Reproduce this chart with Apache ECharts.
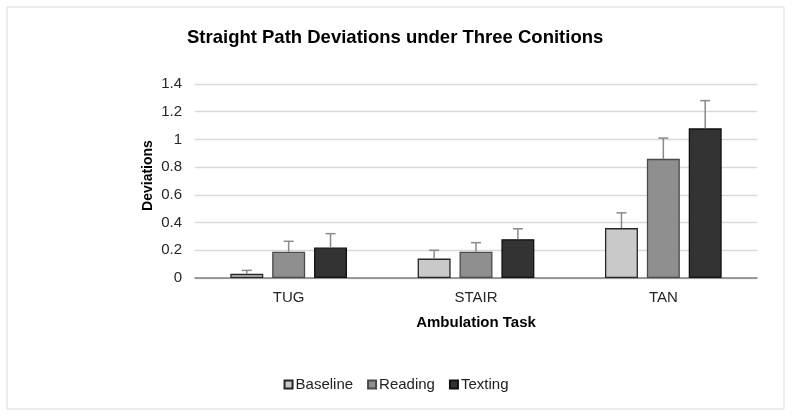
<!DOCTYPE html>
<html>
<head>
<meta charset="utf-8">
<script src="https://cdn.jsdelivr.net/npm/echarts@6/dist/echarts.min.js"></script>
<style>
html,body{margin:0;padding:0;background:#fff;}
#c{width:792px;height:417px;}
</style>
</head>
<body>
<div id="c"></div>
<script>
const categories = ['TUG', 'STAIR', 'TAN'];
const seriesNames = ['Baseline', 'Reading', 'Texting'];
const baseline = [0.03, 0.14, 0.36];
const reading = [0.19, 0.19, 0.86];
const texting = [0.22, 0.28, 1.08];
const baselineErr = [0.025, 0.06, 0.11];
const readingErr = [0.075, 0.065, 0.15];
const textingErr = [0.10, 0.075, 0.20];
const yTicks = [0, 0.2, 0.4, 0.6, 0.8, 1, 1.2, 1.4];

const values = [baseline, reading, texting];
const errs = [baselineErr, readingErr, textingErr];
const fills = ['#c9c9c9', '#8f8f8f', '#333333'];
const borders = ['#262626', '#4a4a4a', '#111111'];
const BAR_FRAC = 0.176, GAP_FRAC = 0.27;

const chart = echarts.init(document.getElementById('c'), null, {renderer: 'canvas'});
const series = [];
values.forEach((v, i) => {
  series.push({
    name: seriesNames[i], type: 'bar', data: v,
    barWidth: (BAR_FRAC * 100) + '%', barGap: (GAP_FRAC * 100) + '%',
    itemStyle: {color: fills[i], borderColor: borders[i], borderWidth: 1.3},
    z: 2
  });
});
values.forEach((v, i) => {
  series.push({
    type: 'custom', name: seriesNames[i] + ' err',
    data: v.map((val, j) => [j, val, val + errs[i][j]]),
    renderItem: function (params, api) {
      const catW = api.size([1, 0])[0];
      const bw = catW * BAR_FRAC;
      const off = (i - 1) * (bw + bw * GAP_FRAC);
      const p0 = api.coord([api.value(0), api.value(1)]);
      const p1 = api.coord([api.value(0), api.value(2)]);
      const x = p0[0] + off;
      const style = {stroke: '#8a8a8a', lineWidth: 1.5};
      return {type: 'group', children: [
        {type: 'line', shape: {x1: x, y1: p0[1], x2: x, y2: p1[1]}, style: style},
        {type: 'line', shape: {x1: x - 5, y1: p1[1], x2: x + 5, y2: p1[1]}, style: style}
      ]};
    },
    z: 3, silent: true
  });
});

chart.setOption({
  animation: false,
  backgroundColor: '#fff',
  textStyle: {fontFamily: 'Liberation Sans, Arial, sans-serif'},
  graphic: [{type: 'rect', shape: {x: 7, y: 7, width: 777, height: 402},
    style: {fill: 'none', stroke: '#d9d9d9', lineWidth: 1}, z: -1}],
  title: {text: 'Straight Path Deviations under Three Conitions', left: 182, top: 23,
    textStyle: {fontSize: 18.5, fontWeight: 'bold', color: '#000', fontFamily: 'Liberation Sans, Arial, sans-serif'}},
  legend: {
    data: seriesNames, top: 372, left: 'center', itemWidth: 8, itemHeight: 8, itemGap: 14,
    icon: 'rect',
    textStyle: {fontSize: 15, color: '#222', padding: [0, 0, 0, -2]}
  },
  grid: {left: 195, right: 35, top: 84, bottom: 139, containLabel: false},
  xAxis: {
    type: 'category', data: categories,
    name: 'Ambulation Task', nameLocation: 'middle', nameGap: 37,
    nameTextStyle: {fontSize: 15, fontWeight: 'bold', color: '#000'},
    axisLine: {lineStyle: {color: '#7f7f7f', width: 1.5}},
    axisTick: {show: false},
    axisLabel: {fontSize: 15, color: '#262626', margin: 12}
  },
  yAxis: {
    type: 'value', min: yTicks[0], max: yTicks[yTicks.length - 1], interval: 0.2,
    name: 'Deviations', nameLocation: 'middle', nameGap: 40, nameMoveOverlap: false,
    nameTextStyle: {fontSize: 14, fontWeight: 'bold', color: '#000', padding: [0, 0, 0, 11]},
    axisLine: {show: false}, axisTick: {show: false},
    axisLabel: {fontSize: 15, color: '#262626', margin: 13,
      formatter: v => String(Math.round(v * 10) / 10)},
    splitLine: {lineStyle: {color: '#d9d9d9', width: 1.3}}
  },
  series: series
});
</script>
</body>
</html>
